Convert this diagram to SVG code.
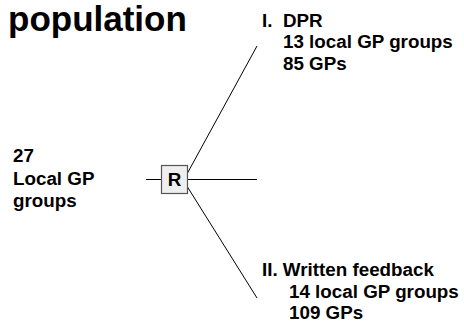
<svg xmlns="http://www.w3.org/2000/svg" width="464" height="327" viewBox="0 0 464 327">
<style>
text{font-family:"Liberation Sans",Arial,sans-serif;font-weight:bold;fill:#000}
.t{font-size:18.8px}
.line{stroke:#000;stroke-width:1;fill:none}
</style>
<rect width="464" height="327" fill="#fff"/>
<g id="title"><text x="8" y="31" style="font-size:35px">population</text></g>
<g id="connectors">
<line class="line" x1="146" y1="179.5" x2="161" y2="179.5"/>
<line class="line" x1="187.5" y1="179.5" x2="257" y2="179.5"/>
<line class="line" x1="187.5" y1="173" x2="257" y2="46"/>
<line class="line" x1="187.5" y1="187" x2="257" y2="298"/>
</g>
<g id="source">
<text class="t" x="13" y="162">27</text>
<text class="t" x="13" y="185">Local GP</text>
<text class="t" x="13" y="207">groups</text>
</g>
<g id="R">
<rect x="161.5" y="165.5" width="26" height="28" fill="#eee" stroke="#555" stroke-width="1.2"/>
<text class="t" x="174.5" y="186" text-anchor="middle">R</text>
</g>
<g id="dpr">
<text class="t" x="262" y="27">I.</text>
<text class="t" x="283" y="27">DPR</text>
<text class="t" x="283" y="48">13 local GP groups</text>
<text class="t" x="283" y="70">85 GPs</text>
</g>
<g id="written">
<text class="t" x="262" y="276">II. Written feedback</text>
<text class="t" x="289" y="298">14 local GP groups</text>
<text class="t" x="289" y="319">109 GPs</text>
</g>
</svg>
